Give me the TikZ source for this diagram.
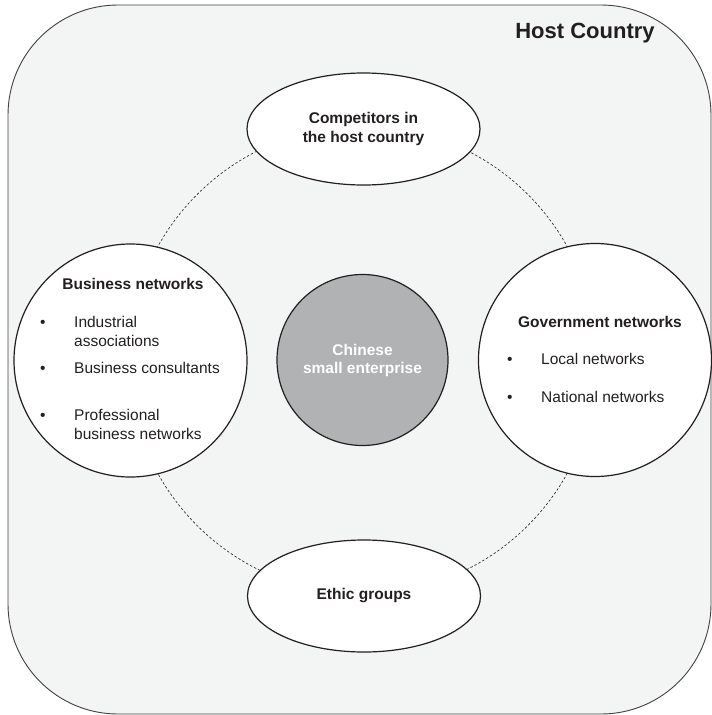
\documentclass[tikz,border=0pt]{standalone}
\usepackage{fontspec}
\setmainfont{Liberation Sans}
\usetikzlibrary{shapes.geometric}
\definecolor{bgfill}{HTML}{F3F4F4}
\definecolor{hubfill}{HTML}{B1B2B4}
\definecolor{ink}{HTML}{231F20}
\newcommand{\bulletitem}[1]{\begin{tabular}{@{}p{34pt}@{}l@{}}• & #1\end{tabular}}
\begin{document}
\begin{tikzpicture}[x=1pt,y=-1pt,
  bodyfont/.style={font=\fontsize{15.5}{19}\selectfont, text=ink},
  headfont/.style={font=\fontsize{15.5}{19}\selectfont\bfseries, text=ink},
  bigcirc/.style={circle, draw=ink, line width=1.2pt, fill=white, minimum size=233pt, inner sep=0pt},
  oval/.style={ellipse, draw=ink, line width=1.2pt, fill=white, minimum width=233pt, minimum height=112pt, inner sep=0pt, align=center, headfont},
  hubnode/.style={circle, draw=ink, line width=1.2pt, fill=hubfill, minimum size=171pt, inner sep=0pt, align=center, font=\fontsize{15.5}{18}\selectfont\bfseries, text=white},
  ring/.style={draw=ink, line width=0.6pt, dash pattern=on 2.5pt off 2pt},
  item/.style={bodyfont, anchor=west, inner sep=0pt}
]
\useasboundingbox (0,0) rectangle (712,715);
% outer host country region
\draw[draw=ink!85, line width=0.9pt, fill=bgfill, rounded corners=110pt] (8,5) rectangle (711,714);
\node[font=\fontsize{22}{26}\selectfont\bfseries, text=ink] (host) at (585,33) {Host Country};

% centre
\node[hubnode] (hub) at (362.5,360) {Chinese\\small enterprise};

% dashed ring
\draw[ring] (hub) circle (234pt);

% surrounding nodes
\node[oval] (comp) at (363.5,129) {Competitors in\\the host country};
\node[oval] (ethic) at (364,596) {Ethic groups};
\node[bigcirc] (biz) at (130.5,360.5) {};
\node[bigcirc] (gov) at (595,360) {};

% business networks content
\node[headfont] (bizhead) at (133,284) {Business networks};
\node[item] (bi1) at (40,333) {\bulletitem{Industrial\\&associations}};
\node[item] (bi2) at (40,370) {\bulletitem{Business consultants}};
\node[item] (bi3) at (40,426.5) {\bulletitem{Professional\\&business networks}};

% government networks content
\node[headfont] (govhead) at (600,322) {Government networks};
\node[item] (gi1) at (507,360.5) {\bulletitem{Local networks}};
\node[item] (gi2) at (507,398.5) {\bulletitem{National networks}};
\end{tikzpicture}
\end{document}
